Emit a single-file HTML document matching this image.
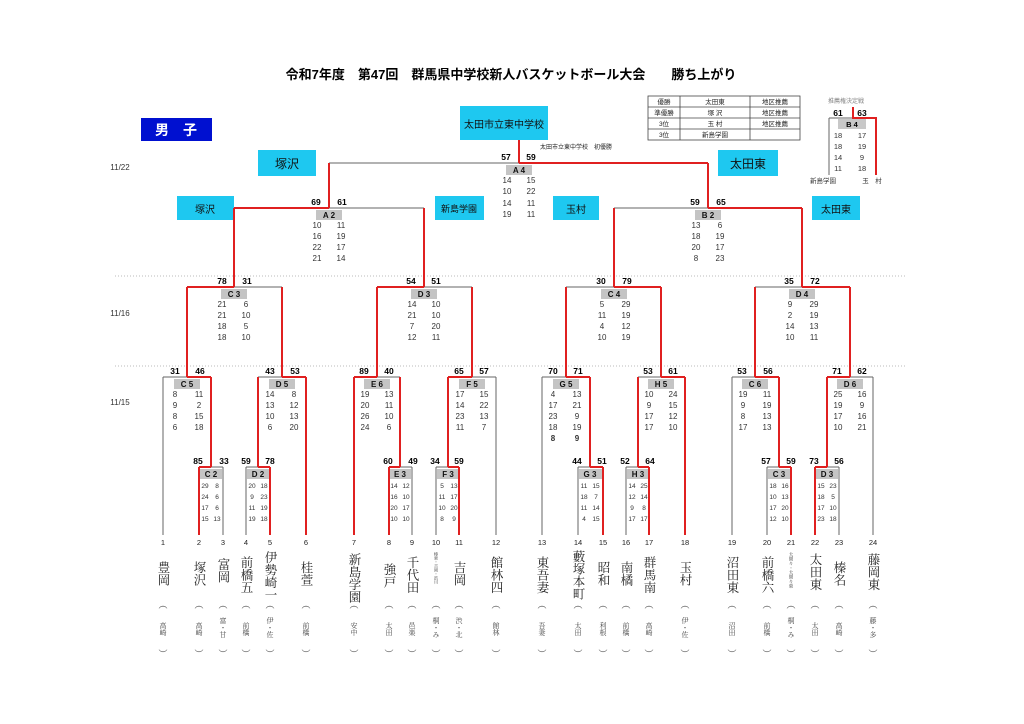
<!DOCTYPE html>
<html><head><meta charset="utf-8">
<style>
body{margin:0;background:#fff;}
#w{position:relative;width:1024px;height:724px;overflow:hidden;background:#fff;font-family:"Liberation Sans","Noto Sans CJK JP",sans-serif;}
svg{position:absolute;left:0;top:0;}
.v{position:absolute;width:16px;height:70px;writing-mode:vertical-rl;font-family:"Liberation Serif","Noto Serif CJK SC",serif;font-size:12.5px;line-height:16px;color:#222;text-align:start;}
.r{position:absolute;width:10px;height:30px;writing-mode:vertical-rl;font-family:"Liberation Serif","Noto Serif CJK SC",serif;font-size:7px;line-height:10px;color:#444;}
.p{position:absolute;font-size:9px;color:#444;width:12px;text-align:center;}
</style></head><body><div id="w">
<svg width="1024" height="724" viewBox="0 0 1024 724" font-family="Liberation Sans, Noto Sans CJK JP, sans-serif">
<text x="511" y="79" text-anchor="middle" font-size="13" font-weight="bold" fill="#000">令和7年度　第47回　群馬県中学校新人バスケットボール大会　　勝ち上がり</text>
<rect x="141" y="118" width="71" height="23" fill="#0010d0"/>
<text x="176" y="135" text-anchor="middle" font-size="14" font-weight="bold" fill="#fff">男　子</text>
<g font-size="8" fill="#333"><text x="120" y="170" text-anchor="middle">11/22</text><text x="120" y="316" text-anchor="middle">11/16</text><text x="120" y="405" text-anchor="middle">11/15</text></g>
<line x1="115" y1="276" x2="905" y2="276" stroke="#bbb" stroke-dasharray="1,2"/>
<line x1="115" y1="366" x2="905" y2="366" stroke="#bbb" stroke-dasharray="1,2"/>
<g fill="#1ec8f0">
<rect x="460" y="106" width="88" height="34"/>
<rect x="258" y="150" width="58" height="26"/><rect x="718" y="150" width="60" height="26"/>
<rect x="177" y="196" width="57" height="24"/><rect x="435" y="196" width="49" height="24"/>
<rect x="553" y="196" width="46" height="24"/><rect x="812" y="196" width="48" height="24"/>
</g>
<g font-size="12" text-anchor="middle" fill="#111">
<text x="504" y="128" font-size="10">太田市立東中学校</text>
<text x="287" y="168">塚沢</text><text x="748" y="168">太田東</text>
<text x="205" y="213" font-size="10">塚沢</text><text x="459" y="212" font-size="9">新島学園</text>
<text x="576" y="213" font-size="10">玉村</text><text x="836" y="213" font-size="10">太田東</text>
</g>
<text x="540" y="149" font-size="6" fill="#222">太田市立東中学校　初優勝</text>
<g stroke="#444" stroke-width="0.8" fill="none">
<rect x="648" y="96" width="152" height="44"/>
<line x1="648" y1="107" x2="800" y2="107"/><line x1="648" y1="118" x2="800" y2="118"/><line x1="648" y1="129" x2="800" y2="129"/>
<line x1="680" y1="96" x2="680" y2="140"/><line x1="750" y1="96" x2="750" y2="140"/>
</g>
<g font-size="6.5" fill="#222" text-anchor="middle">
<text x="664" y="104">優勝</text><text x="715" y="104">太田東</text><text x="775" y="104">地区推薦</text>
<text x="664" y="115">準優勝</text><text x="715" y="115">塚 沢</text><text x="775" y="115">地区推薦</text>
<text x="664" y="126">3位</text><text x="715" y="126">玉 村</text><text x="775" y="126">地区推薦</text>
<text x="664" y="137">3位</text><text x="715" y="137">新島学園</text>
</g>
<text x="846" y="103" font-size="6" fill="#888" text-anchor="middle">推薦権決定戦</text>
<g font-size="8.5" font-weight="bold" text-anchor="middle"><text x="838" y="116">61</text><text x="862" y="116">63</text></g>
<rect x="838" y="119" width="28" height="10" fill="#c8c8c8"/>
<text x="852" y="127" font-size="7.5" font-weight="bold" text-anchor="middle">B 4</text>
<line x1="829" y1="118" x2="853" y2="118" stroke="#666"/>
<line x1="829" y1="118" x2="829" y2="175" stroke="#666"/>
<polyline points="853,107 853,118 876,118 876,175" fill="none" stroke="#e02020" stroke-width="2"/>
<g font-size="7.5" fill="#333" text-anchor="middle">
<text x="838" y="138">18</text><text x="862" y="138">17</text>
<text x="838" y="149">18</text><text x="862" y="149">19</text>
<text x="838" y="160">14</text><text x="862" y="160">9</text>
<text x="838" y="171">11</text><text x="862" y="171">18</text>
<text x="823" y="183" font-size="6.5">新島学園</text><text x="872" y="183" font-size="6.5">玉　村</text>
</g>

<g stroke="#666" stroke-width="1" fill="none">
<line x1="199" y1="467" x2="223" y2="467"/><line x1="163" y1="377" x2="211" y2="377"/>
<line x1="246" y1="467" x2="270" y2="467"/><line x1="258" y1="377" x2="306" y2="377"/>
<line x1="187" y1="287" x2="282" y2="287"/>
<line x1="389" y1="467" x2="412" y2="467"/><line x1="354" y1="377" x2="400" y2="377"/>
<line x1="436" y1="467" x2="459" y2="467"/><line x1="448" y1="377" x2="496" y2="377"/>
<line x1="377" y1="287" x2="472" y2="287"/><line x1="234" y1="208" x2="424" y2="208"/>
<line x1="578" y1="467" x2="603" y2="467"/><line x1="542" y1="377" x2="590" y2="377"/>
<line x1="626" y1="467" x2="649" y2="467"/><line x1="638" y1="377" x2="685" y2="377"/>
<line x1="566" y1="287" x2="661" y2="287"/>
<line x1="767" y1="467" x2="791" y2="467"/><line x1="732" y1="377" x2="779" y2="377"/>
<line x1="815" y1="467" x2="839" y2="467"/><line x1="827" y1="377" x2="873" y2="377"/>
<line x1="755" y1="287" x2="850" y2="287"/><line x1="614" y1="208" x2="802" y2="208"/>
<line x1="329" y1="163" x2="708" y2="163"/>
<line x1="163" y1="377" x2="163" y2="535"/><line x1="223" y1="467" x2="223" y2="535"/>
<line x1="246" y1="467" x2="246" y2="535"/><line x1="412" y1="467" x2="412" y2="535"/>
<line x1="436" y1="467" x2="436" y2="535"/><line x1="496" y1="377" x2="496" y2="535"/>
<line x1="542" y1="377" x2="542" y2="535"/><line x1="578" y1="467" x2="578" y2="535"/>
<line x1="626" y1="467" x2="626" y2="535"/><line x1="732" y1="377" x2="732" y2="535"/>
<line x1="767" y1="467" x2="767" y2="535"/><line x1="839" y1="467" x2="839" y2="535"/>
<line x1="873" y1="377" x2="873" y2="535"/>
</g>
<g stroke="#e02020" stroke-width="2" fill="none">
<line x1="519" y1="140" x2="519" y2="163"/><line x1="519" y1="163" x2="708" y2="163"/>
<line x1="329" y1="208" x2="234" y2="208"/><line x1="708" y1="208" x2="802" y2="208"/>
<line x1="329" y1="163" x2="329" y2="208"/><line x1="708" y1="163" x2="708" y2="208"/>
<line x1="234" y1="208" x2="234" y2="287"/><line x1="424" y1="208" x2="424" y2="287"/>
<line x1="614" y1="208" x2="614" y2="287"/><line x1="802" y1="208" x2="802" y2="287"/>
<line x1="234" y1="287" x2="187" y2="287"/><line x1="424" y1="287" x2="377" y2="287"/>
<line x1="614" y1="287" x2="661" y2="287"/><line x1="802" y1="287" x2="850" y2="287"/>
<line x1="187" y1="287" x2="187" y2="377"/><line x1="282" y1="287" x2="282" y2="377"/>
<line x1="377" y1="287" x2="377" y2="377"/><line x1="472" y1="287" x2="472" y2="377"/>
<line x1="566" y1="287" x2="566" y2="377"/><line x1="661" y1="287" x2="661" y2="377"/>
<line x1="755" y1="287" x2="755" y2="377"/><line x1="850" y1="287" x2="850" y2="377"/>
<line x1="187" y1="377" x2="211" y2="377"/><line x1="211" y1="377" x2="211" y2="467"/>
<line x1="282" y1="377" x2="306" y2="377"/><line x1="258" y1="377" x2="258" y2="467"/><line x1="306" y1="377" x2="306" y2="535"/>
<line x1="377" y1="377" x2="354" y2="377"/><line x1="354" y1="377" x2="354" y2="535"/><line x1="400" y1="377" x2="400" y2="467"/>
<line x1="472" y1="377" x2="448" y2="377"/><line x1="448" y1="377" x2="448" y2="467"/>
<line x1="566" y1="377" x2="590" y2="377"/><line x1="590" y1="377" x2="590" y2="467"/>
<line x1="661" y1="377" x2="685" y2="377"/><line x1="638" y1="377" x2="638" y2="467"/><line x1="685" y1="377" x2="685" y2="535"/>
<line x1="755" y1="377" x2="779" y2="377"/><line x1="779" y1="377" x2="779" y2="467"/>
<line x1="850" y1="377" x2="827" y2="377"/><line x1="827" y1="377" x2="827" y2="467"/>
<line x1="211" y1="467" x2="199" y2="467"/><line x1="199" y1="467" x2="199" y2="535"/>
<line x1="258" y1="467" x2="270" y2="467"/><line x1="270" y1="467" x2="270" y2="535"/>
<line x1="400" y1="467" x2="389" y2="467"/><line x1="389" y1="467" x2="389" y2="535"/>
<line x1="448" y1="467" x2="459" y2="467"/><line x1="459" y1="467" x2="459" y2="535"/>
<line x1="590" y1="467" x2="603" y2="467"/><line x1="603" y1="467" x2="603" y2="535"/>
<line x1="638" y1="467" x2="649" y2="467"/><line x1="649" y1="467" x2="649" y2="535"/>
<line x1="779" y1="467" x2="791" y2="467"/><line x1="791" y1="467" x2="791" y2="535"/>
<line x1="827" y1="467" x2="815" y2="467"/><line x1="815" y1="467" x2="815" y2="535"/>
</g>

<g fill="#c4c4c4">
<rect x="506" y="165" width="26" height="10"/><rect x="316" y="210" width="26" height="10"/><rect x="695" y="210" width="26" height="10"/>
<rect x="221" y="289" width="26" height="10"/><rect x="411" y="289" width="26" height="10"/><rect x="601" y="289" width="26" height="10"/><rect x="789" y="289" width="26" height="10"/>
<rect x="174" y="379" width="26" height="10"/><rect x="269" y="379" width="26" height="10"/><rect x="364" y="379" width="26" height="10"/><rect x="459" y="379" width="26" height="10"/>
<rect x="553" y="379" width="26" height="10"/><rect x="648" y="379" width="26" height="10"/><rect x="742" y="379" width="26" height="10"/><rect x="837" y="379" width="26" height="10"/>
<rect x="200" y="469" width="22" height="10"/><rect x="247" y="469" width="22" height="10"/><rect x="390" y="469" width="21" height="10"/><rect x="437" y="469" width="21" height="10"/>
<rect x="579" y="469" width="23" height="10"/><rect x="627" y="469" width="21" height="10"/><rect x="768" y="469" width="22" height="10"/><rect x="816" y="469" width="22" height="10"/>
</g>
<g font-size="8" font-weight="bold" text-anchor="middle" fill="#111">
<text x="519" y="173">A 4</text><text x="329" y="218">A 2</text><text x="708" y="218">B 2</text>
<text x="234" y="297">C 3</text><text x="424" y="297">D 3</text><text x="614" y="297">C 4</text><text x="802" y="297">D 4</text>
<text x="187" y="387">C 5</text><text x="282" y="387">D 5</text><text x="377" y="387">E 6</text><text x="472" y="387">F 5</text>
<text x="566" y="387">G 5</text><text x="661" y="387">H 5</text><text x="755" y="387">C 6</text><text x="850" y="387">D 6</text>
<text x="211" y="477">C 2</text><text x="258" y="477">D 2</text><text x="400" y="477">E 3</text><text x="448" y="477">F 3</text>
<text x="590" y="477">G 3</text><text x="638" y="477">H 3</text><text x="779" y="477">C 3</text><text x="827" y="477">D 3</text>
</g>
<g font-size="8.5" font-weight="bold" text-anchor="middle" fill="#000">
<text x="506" y="160">57</text><text x="531" y="160">59</text>
<text x="316" y="205">69</text><text x="342" y="205">61</text><text x="695" y="205">59</text><text x="721" y="205">65</text>
<text x="222" y="284">78</text><text x="247" y="284">31</text><text x="411" y="284">54</text><text x="436" y="284">51</text>
<text x="601" y="284">30</text><text x="627" y="284">79</text><text x="789" y="284">35</text><text x="815" y="284">72</text>
<text x="175" y="374">31</text><text x="200" y="374">46</text><text x="270" y="374">43</text><text x="295" y="374">53</text>
<text x="364" y="374">89</text><text x="389" y="374">40</text><text x="459" y="374">65</text><text x="484" y="374">57</text>
<text x="553" y="374">70</text><text x="578" y="374">71</text><text x="648" y="374">53</text><text x="673" y="374">61</text>
<text x="742" y="374">53</text><text x="768" y="374">56</text><text x="837" y="374">71</text><text x="862" y="374">62</text>
<text x="198" y="464">85</text><text x="224" y="464">33</text><text x="246" y="464">59</text><text x="270" y="464">78</text>
<text x="388" y="464">60</text><text x="413" y="464">49</text><text x="435" y="464">34</text><text x="459" y="464">59</text>
<text x="577" y="464">44</text><text x="602" y="464">51</text><text x="625" y="464">52</text><text x="650" y="464">64</text>
<text x="766" y="464">57</text><text x="791" y="464">59</text><text x="814" y="464">73</text><text x="839" y="464">56</text>
</g>
<g font-size="8" text-anchor="middle" fill="#333">
<text x="507" y="183">14</text><text x="531" y="183">15</text><text x="507" y="194">10</text><text x="531" y="194">22</text><text x="507" y="206">14</text><text x="531" y="206">11</text><text x="507" y="217">19</text><text x="531" y="217">11</text>
<text x="317" y="228">10</text><text x="341" y="228">11</text><text x="317" y="239">16</text><text x="341" y="239">19</text><text x="317" y="250">22</text><text x="341" y="250">17</text><text x="317" y="261">21</text><text x="341" y="261">14</text>
<text x="696" y="228">13</text><text x="720" y="228">6</text><text x="696" y="239">18</text><text x="720" y="239">19</text><text x="696" y="250">20</text><text x="720" y="250">17</text><text x="696" y="261">8</text><text x="720" y="261">23</text>
<text x="222" y="307">21</text><text x="246" y="307">6</text><text x="222" y="318">21</text><text x="246" y="318">10</text><text x="222" y="329">18</text><text x="246" y="329">5</text><text x="222" y="340">18</text><text x="246" y="340">10</text>
<text x="412" y="307">14</text><text x="436" y="307">10</text><text x="412" y="318">21</text><text x="436" y="318">10</text><text x="412" y="329">7</text><text x="436" y="329">20</text><text x="412" y="340">12</text><text x="436" y="340">11</text>
<text x="602" y="307">5</text><text x="626" y="307">29</text><text x="602" y="318">11</text><text x="626" y="318">19</text><text x="602" y="329">4</text><text x="626" y="329">12</text><text x="602" y="340">10</text><text x="626" y="340">19</text>
<text x="790" y="307">9</text><text x="814" y="307">29</text><text x="790" y="318">2</text><text x="814" y="318">19</text><text x="790" y="329">14</text><text x="814" y="329">13</text><text x="790" y="340">10</text><text x="814" y="340">11</text>
<text x="175" y="397">8</text><text x="199" y="397">11</text><text x="175" y="408">9</text><text x="199" y="408">2</text><text x="175" y="419">8</text><text x="199" y="419">15</text><text x="175" y="430">6</text><text x="199" y="430">18</text>
<text x="270" y="397">14</text><text x="294" y="397">8</text><text x="270" y="408">13</text><text x="294" y="408">12</text><text x="270" y="419">10</text><text x="294" y="419">13</text><text x="270" y="430">6</text><text x="294" y="430">20</text>
<text x="365" y="397">19</text><text x="389" y="397">13</text><text x="365" y="408">20</text><text x="389" y="408">11</text><text x="365" y="419">26</text><text x="389" y="419">10</text><text x="365" y="430">24</text><text x="389" y="430">6</text>
<text x="460" y="397">17</text><text x="484" y="397">15</text><text x="460" y="408">14</text><text x="484" y="408">22</text><text x="460" y="419">23</text><text x="484" y="419">13</text><text x="460" y="430">11</text><text x="484" y="430">7</text>
<text x="553" y="397">4</text><text x="577" y="397">13</text><text x="553" y="408">17</text><text x="577" y="408">21</text><text x="553" y="419">23</text><text x="577" y="419">9</text><text x="553" y="430">18</text><text x="577" y="430">19</text><text x="553" y="441" font-weight="bold">8</text><text x="577" y="441" font-weight="bold">9</text>
<text x="649" y="397">10</text><text x="673" y="397">24</text><text x="649" y="408">9</text><text x="673" y="408">15</text><text x="649" y="419">17</text><text x="673" y="419">12</text><text x="649" y="430">17</text><text x="673" y="430">10</text>
<text x="743" y="397">19</text><text x="767" y="397">11</text><text x="743" y="408">9</text><text x="767" y="408">19</text><text x="743" y="419">8</text><text x="767" y="419">13</text><text x="743" y="430">17</text><text x="767" y="430">13</text>
<text x="838" y="397">25</text><text x="862" y="397">16</text><text x="838" y="408">19</text><text x="862" y="408">9</text><text x="838" y="419">17</text><text x="862" y="419">16</text><text x="838" y="430">10</text><text x="862" y="430">21</text>
</g>
<g font-size="6.5" text-anchor="middle" fill="#333">
<text x="205" y="488">29</text><text x="217" y="488">8</text><text x="205" y="499">24</text><text x="217" y="499">6</text><text x="205" y="510">17</text><text x="217" y="510">6</text><text x="205" y="521">15</text><text x="217" y="521">13</text>
<text x="252" y="488">20</text><text x="264" y="488">18</text><text x="252" y="499">9</text><text x="264" y="499">23</text><text x="252" y="510">11</text><text x="264" y="510">19</text><text x="252" y="521">19</text><text x="264" y="521">18</text>
<text x="394" y="488">14</text><text x="406" y="488">12</text><text x="394" y="499">16</text><text x="406" y="499">10</text><text x="394" y="510">20</text><text x="406" y="510">17</text><text x="394" y="521">10</text><text x="406" y="521">10</text>
<text x="442" y="488">5</text><text x="454" y="488">13</text><text x="442" y="499">11</text><text x="454" y="499">17</text><text x="442" y="510">10</text><text x="454" y="510">20</text><text x="442" y="521">8</text><text x="454" y="521">9</text>
<text x="584" y="488">11</text><text x="596" y="488">15</text><text x="584" y="499">18</text><text x="596" y="499">7</text><text x="584" y="510">11</text><text x="596" y="510">14</text><text x="584" y="521">4</text><text x="596" y="521">15</text>
<text x="632" y="488">14</text><text x="644" y="488">25</text><text x="632" y="499">12</text><text x="644" y="499">14</text><text x="632" y="510">9</text><text x="644" y="510">8</text><text x="632" y="521">17</text><text x="644" y="521">17</text>
<text x="773" y="488">18</text><text x="785" y="488">16</text><text x="773" y="499">10</text><text x="785" y="499">13</text><text x="773" y="510">17</text><text x="785" y="510">20</text><text x="773" y="521">12</text><text x="785" y="521">10</text>
<text x="821" y="488">15</text><text x="833" y="488">23</text><text x="821" y="499">18</text><text x="833" y="499">5</text><text x="821" y="510">17</text><text x="833" y="510">10</text><text x="821" y="521">23</text><text x="833" y="521">18</text>
</g>
<g font-size="7.5" text-anchor="middle" fill="#222">
<text x="163" y="545">1</text><text x="199" y="545">2</text><text x="223" y="545">3</text><text x="246" y="545">4</text><text x="270" y="545">5</text><text x="306" y="545">6</text>
<text x="354" y="545">7</text><text x="389" y="545">8</text><text x="412" y="545">9</text><text x="436" y="545">10</text><text x="459" y="545">11</text><text x="496" y="545">12</text>
<text x="542" y="545">13</text><text x="578" y="545">14</text><text x="603" y="545">15</text><text x="626" y="545">16</text><text x="649" y="545">17</text><text x="685" y="545">18</text>
<text x="732" y="545">19</text><text x="767" y="545">20</text><text x="791" y="545">21</text><text x="815" y="545">22</text><text x="839" y="545">23</text><text x="873" y="545">24</text>
</g>
</svg>
<div class="v" style="left:155px;top:561px">豊岡</div>
<div class="v" style="left:191px;top:561px">塚沢</div>
<div class="v" style="left:215px;top:558px">富岡</div>
<div class="v" style="left:238px;top:556px">前橋五</div>
<div class="v" style="left:262px;top:551px">伊勢崎一</div>
<div class="v" style="left:298px;top:561px">桂萱</div>
<div class="v" style="left:346px;top:553px">新島学園</div>
<div class="v" style="left:381px;top:563px">強戸</div>
<div class="v" style="left:404px;top:556px">千代田</div>
<div class="v" style="left:431px;top:552px;font-size:4px;line-height:10px;width:10px;height:50px;">榛東・吉岡・渋川</div>
<div class="v" style="left:451px;top:561px">吉岡</div>
<div class="v" style="left:488px;top:556px">館林四</div>
<div class="v" style="left:534px;top:556px">東吾妻</div>
<div class="v" style="left:570px;top:550px">藪塚本町</div>
<div class="v" style="left:595px;top:561px">昭和</div>
<div class="v" style="left:618px;top:561px">南橘</div>
<div class="v" style="left:641px;top:556px">群馬南</div>
<div class="v" style="left:677px;top:561px">玉村</div>
<div class="v" style="left:724px;top:556px">沼田東</div>
<div class="v" style="left:759px;top:556px">前橋六</div>
<div class="v" style="left:786px;top:552px;font-size:4.5px;line-height:10px;width:10px;height:50px;">大間々・大間々東</div>
<div class="v" style="left:807px;top:553px">太田東</div>
<div class="v" style="left:831px;top:561px">榛名</div>
<div class="v" style="left:865px;top:553px">藤岡東</div>
<div style="position:absolute;left:0;top:0;font-family:'Liberation Serif','Noto Serif CJK SC',serif;font-size:8px;color:#555;">
<span class="p" style="left:157px;top:598px">︵</span><span class="p" style="left:157px;top:647px">︶</span><div class="r" style="left:158px;top:622px">高崎</div>
<span class="p" style="left:193px;top:598px">︵</span><span class="p" style="left:193px;top:647px">︶</span><div class="r" style="left:194px;top:622px">高崎</div>
<span class="p" style="left:217px;top:598px">︵</span><span class="p" style="left:217px;top:647px">︶</span><div class="r" style="left:218px;top:617px">富・甘</div>
<span class="p" style="left:240px;top:598px">︵</span><span class="p" style="left:240px;top:647px">︶</span><div class="r" style="left:241px;top:622px">前橋</div>
<span class="p" style="left:264px;top:598px">︵</span><span class="p" style="left:264px;top:647px">︶</span><div class="r" style="left:265px;top:617px">伊・佐</div>
<span class="p" style="left:300px;top:598px">︵</span><span class="p" style="left:300px;top:647px">︶</span><div class="r" style="left:301px;top:622px">前橋</div>
<span class="p" style="left:348px;top:598px">︵</span><span class="p" style="left:348px;top:647px">︶</span><div class="r" style="left:349px;top:622px">安中</div>
<span class="p" style="left:383px;top:598px">︵</span><span class="p" style="left:383px;top:647px">︶</span><div class="r" style="left:384px;top:622px">太田</div>
<span class="p" style="left:406px;top:598px">︵</span><span class="p" style="left:406px;top:647px">︶</span><div class="r" style="left:407px;top:622px">邑楽</div>
<span class="p" style="left:430px;top:598px">︵</span><span class="p" style="left:430px;top:647px">︶</span><div class="r" style="left:431px;top:617px">桐・み</div>
<span class="p" style="left:453px;top:598px">︵</span><span class="p" style="left:453px;top:647px">︶</span><div class="r" style="left:454px;top:617px">渋・北</div>
<span class="p" style="left:490px;top:598px">︵</span><span class="p" style="left:490px;top:647px">︶</span><div class="r" style="left:491px;top:622px">館林</div>
<span class="p" style="left:536px;top:598px">︵</span><span class="p" style="left:536px;top:647px">︶</span><div class="r" style="left:537px;top:622px">吾妻</div>
<span class="p" style="left:572px;top:598px">︵</span><span class="p" style="left:572px;top:647px">︶</span><div class="r" style="left:573px;top:622px">太田</div>
<span class="p" style="left:597px;top:598px">︵</span><span class="p" style="left:597px;top:647px">︶</span><div class="r" style="left:598px;top:622px">利根</div>
<span class="p" style="left:620px;top:598px">︵</span><span class="p" style="left:620px;top:647px">︶</span><div class="r" style="left:621px;top:622px">前橋</div>
<span class="p" style="left:643px;top:598px">︵</span><span class="p" style="left:643px;top:647px">︶</span><div class="r" style="left:644px;top:622px">高崎</div>
<span class="p" style="left:679px;top:598px">︵</span><span class="p" style="left:679px;top:647px">︶</span><div class="r" style="left:680px;top:617px">伊・佐</div>
<span class="p" style="left:726px;top:598px">︵</span><span class="p" style="left:726px;top:647px">︶</span><div class="r" style="left:727px;top:622px">沼田</div>
<span class="p" style="left:761px;top:598px">︵</span><span class="p" style="left:761px;top:647px">︶</span><div class="r" style="left:762px;top:622px">前橋</div>
<span class="p" style="left:785px;top:598px">︵</span><span class="p" style="left:785px;top:647px">︶</span><div class="r" style="left:786px;top:617px">桐・み</div>
<span class="p" style="left:809px;top:598px">︵</span><span class="p" style="left:809px;top:647px">︶</span><div class="r" style="left:810px;top:622px">太田</div>
<span class="p" style="left:833px;top:598px">︵</span><span class="p" style="left:833px;top:647px">︶</span><div class="r" style="left:834px;top:622px">高崎</div>
<span class="p" style="left:867px;top:598px">︵</span><span class="p" style="left:867px;top:647px">︶</span><div class="r" style="left:868px;top:617px">藤・多</div>
</div>
</div></body></html>
